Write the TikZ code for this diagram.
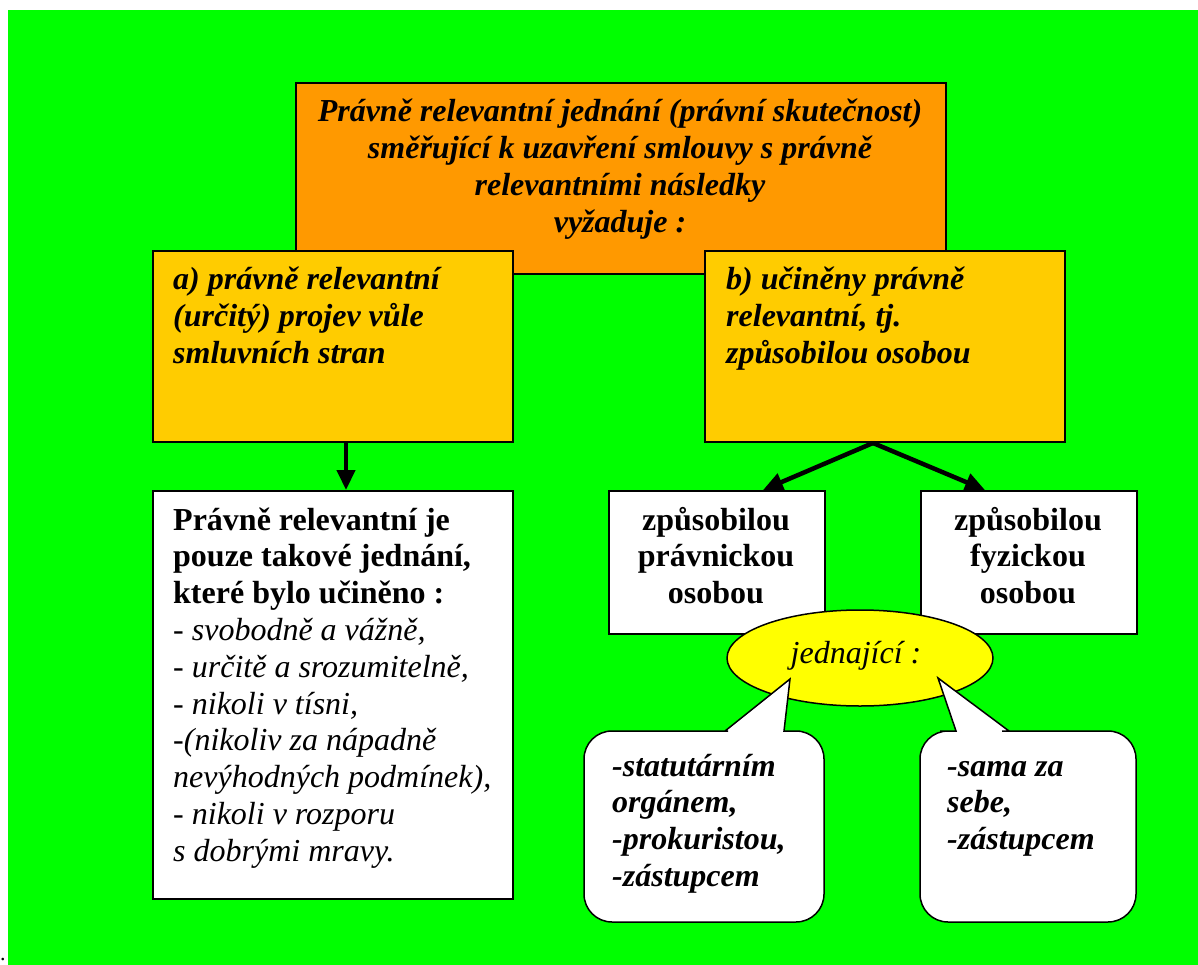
\documentclass[tikz,border=0pt]{standalone}
\usepackage{fontspec}
\setmainfont{Liberation Serif}
\usetikzlibrary{shapes.geometric,arrows.meta}
\definecolor{bggreen}{HTML}{00FF00}
\definecolor{boxorange}{HTML}{FF9900}
\definecolor{boxgold}{HTML}{FFCC00}
\definecolor{ellyellow}{HTML}{FFFF00}
\newcommand\szfont{\fontsize{32}{36.8}\selectfont}
\begin{document}
\begin{tikzpicture}[x=1pt,y=-1pt,
  boxrect/.style={draw=black, line width=2pt, rectangle, inner sep=0pt, anchor=north west},
  txt/.style={inner sep=0pt, font=\szfont},
  arr/.style={line width=4.5pt, -{Triangle[length=20pt,width=18pt]}},
  callout/.style={draw=black, line width=1.5pt, fill=white, line join=miter}]
\useasboundingbox (0,0) rectangle (1198,965);
\fill[white] (0,0) rectangle (1198,965);
\fill[bggreen] (8,10) rectangle (1198,965);
\node[txt, font=\fontsize{22}{22}\selectfont, anchor=base] (dot) at (3,960) {.};

% top box
\node[boxrect, fill=boxorange, minimum width=650pt, minimum height=191pt] (top) at (295,82) {};
\node[txt, anchor=base, font=\szfont\bfseries\itshape] (toptxt) at (620,122)
  {\begin{tabular}[t]{@{}c@{}}Právně relevantní jednání (právní skutečnost)\\ směřující k uzavření smlouvy s právně\\ relevantními následky\\ vyžaduje :\end{tabular}};

% boxes a and b
\node[boxrect, fill=boxgold, minimum width=360pt, minimum height=191pt] (a) at (152,250) {};
\node[txt, anchor=base west, font=\szfont\bfseries\itshape] (atxt) at (173,290)
  {\begin{tabular}[t]{@{}l@{}}a) právně relevantní\\ (určitý) projev vůle\\ smluvních stran\end{tabular}};
\node[boxrect, fill=boxgold, minimum width=360pt, minimum height=191pt] (b) at (704,250) {};
\node[txt, anchor=base west, font=\szfont\bfseries\itshape] (btxt) at (726,290)
  {\begin{tabular}[t]{@{}l@{}}b) učiněny právně\\ relevantní, tj.\\ způsobilou osobou\end{tabular}};

% lower boxes
\node[boxrect, fill=white, minimum width=360pt, minimum height=408pt] (w) at (152,490) {};
\node[txt, anchor=base west] (wtxt) at (173,530)
  {\begin{tabular}[t]{@{}l@{}}\textbf{Právně relevantní je}\\ \textbf{pouze takové jednání,}\\ \textbf{které bylo učiněno :}\\
  \textit{- svobodně a vážně,}\\ \textit{- určitě a srozumitelně,}\\ \textit{- nikoli v tísni,}\\
  \textit{-(nikoliv za nápadně}\\ \textit{nevýhodných podmínek),}\\ \textit{- nikoli v rozporu}\\ \textit{s dobrými mravy.}\end{tabular}};

\node[boxrect, fill=white, minimum width=216pt, minimum height=143pt] (p) at (608,490) {};
\node[txt, anchor=base, font=\szfont\bfseries] (ptxt) at (716,530)
  {\begin{tabular}[t]{@{}c@{}}způsobilou\\ právnickou\\ osobou\end{tabular}};
\node[boxrect, fill=white, minimum width=216pt, minimum height=143pt] (f) at (920,490) {};
\node[txt, anchor=base, font=\szfont\bfseries] (ftxt) at (1028,530)
  {\begin{tabular}[t]{@{}c@{}}způsobilou\\ fyzickou\\ osobou\end{tabular}};

% arrows
\draw[arr] ([xshift=13pt]a.south) -- ([xshift=13pt]w.north);
\draw[arr] ([xshift=-12pt]b.south) -- ([xshift=46pt]p.north);
\draw[arr] ([xshift=-12pt]b.south) -- ([xshift=-44pt]f.north);

% ellipse
\node[ellipse, draw=black, line width=1.5pt, fill=ellyellow, minimum width=266pt, minimum height=96pt, inner sep=0pt] (e) at (860,658) {};
\node[txt, anchor=base, font=\szfont\itshape] (etxt) at (856,663) {jednající :};

% callouts
\draw[callout] (700,731) -- (725,731) -- (790,679) -- (784,731) -- (800,731)
  [rounded corners=28pt] -- (824,731) -- (824,922) -- (584,922) -- (584,731) -- cycle;
\node[txt, anchor=base west, font=\szfont\bfseries\itshape] (ltxt) at (612,776)
  {\begin{tabular}[t]{@{}l@{}}-statutárním\\ orgánem,\\ -prokuristou,\\ -zástupcem\end{tabular}};
\draw[callout] (1030,731) -- (1009,731) -- (938,678) -- (956,731) -- (940,731)
  [rounded corners=28pt] -- (920,731) -- (920,922) -- (1136,922) -- (1136,731) -- cycle;
\node[txt, anchor=base west, font=\szfont\bfseries\itshape] (rtxt) at (947,776)
  {\begin{tabular}[t]{@{}l@{}}-sama za\\ sebe,\\ -zástupcem\end{tabular}};
\end{tikzpicture}
\end{document}
